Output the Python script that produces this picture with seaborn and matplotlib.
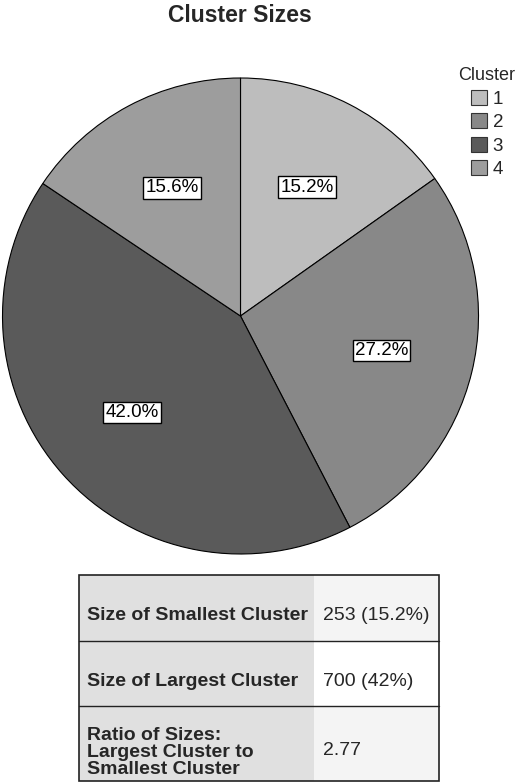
import matplotlib
matplotlib.use("Agg")
import matplotlib.pyplot as plt
import seaborn as sns
from matplotlib.patches import Rectangle

sns.set_style("white")
plt.rcParams['font.family'] = ['Liberation Sans', 'DejaVu Sans']

clusters = ["1", "2", "3", "4"]
sizes = [15.2, 27.2, 42.0, 15.6]
colors = ["#bdbdbd", "#888888", "#5a5a5a", "#9d9d9d"]

table_labels = ["Size of Smallest Cluster", "Size of Largest Cluster",
                "Ratio of Sizes:\nLargest Cluster to\nSmallest Cluster"]
table_values = ["253 (15.2%)", "700 (42%)", "2.77"]

W, H = 520, 784
fig = plt.figure(figsize=(W / 100, H / 100), dpi=100)

cx, cy, R = 240.5, 316, 238
ax = fig.add_axes([(cx - R) / W, (H - cy - R) / H, 2 * R / W, 2 * R / H])
wedges, texts, autotexts = ax.pie(
    sizes, colors=colors, startangle=90, counterclock=False,
    autopct=lambda p: f"{p:.1f}%", pctdistance=0.61,
    wedgeprops=dict(edgecolor="black", linewidth=0.8),
    textprops=dict(fontsize=13.5, color="black"))
for t in autotexts:
    t.set_bbox(dict(boxstyle="square,pad=0.12", facecolor="white", edgecolor="black", linewidth=1.0))
ax.set_aspect("equal")
ax.set_xlim(-1.0, 1.0)
ax.set_ylim(-1.0, 1.0)
ax.axis("off")

fig.text(240 / W, 1 - 15 / H, "Cluster Sizes", ha="center", va="center",
         fontsize=16.5, fontweight="bold")

leg = fig.legend(wedges, clusters, title="Cluster", loc="upper center",
                 bbox_to_anchor=(487 / W, 1 - 52 / H), frameon=False,
                 fontsize=13.5, title_fontsize=13, handlelength=0.85, handleheight=0.85,
                 handletextpad=0.3, labelspacing=0.3, borderpad=0.3)
for p in leg.get_patches():
    p.set_edgecolor("#333333")

# table
tab = fig.add_axes([0, 0, 1, 1])
tab.set_xlim(0, W)
tab.set_ylim(H, 0)
tab.axis("off")
x0, xs, x1 = 79, 314, 439
ys = [575, 641, 706, 781]
right_bg = ["#f4f4f4", "#ffffff", "#f4f4f4"]
label_dy = [8, 8, 9]
value_dy = [8, 8, 7]
for i in range(3):
    y_top, y_bot = ys[i], ys[i + 1]
    tab.add_patch(Rectangle((x0, y_top), xs - x0, y_bot - y_top, facecolor="#e0e0e0", edgecolor="none"))
    tab.add_patch(Rectangle((xs, y_top), x1 - xs, y_bot - y_top, facecolor=right_bg[i], edgecolor="none"))
    ym = (y_top + y_bot) / 2
    tab.text(x0 + 8, ym + label_dy[i], table_labels[i], ha="left", va="center", fontsize=14,
             fontweight="bold", linespacing=1.0)
    tab.text(xs + 9, ym + value_dy[i], table_values[i], ha="left", va="center", fontsize=14)
for y in ys[1:-1]:
    tab.plot([x0, x1], [y, y], color="#222222", lw=1.0)
tab.add_patch(Rectangle((x0, ys[0]), x1 - x0, ys[-1] - ys[0], facecolor="none",
                        edgecolor="#222222", lw=1.2))

fig.savefig("out.png", dpi=100)
